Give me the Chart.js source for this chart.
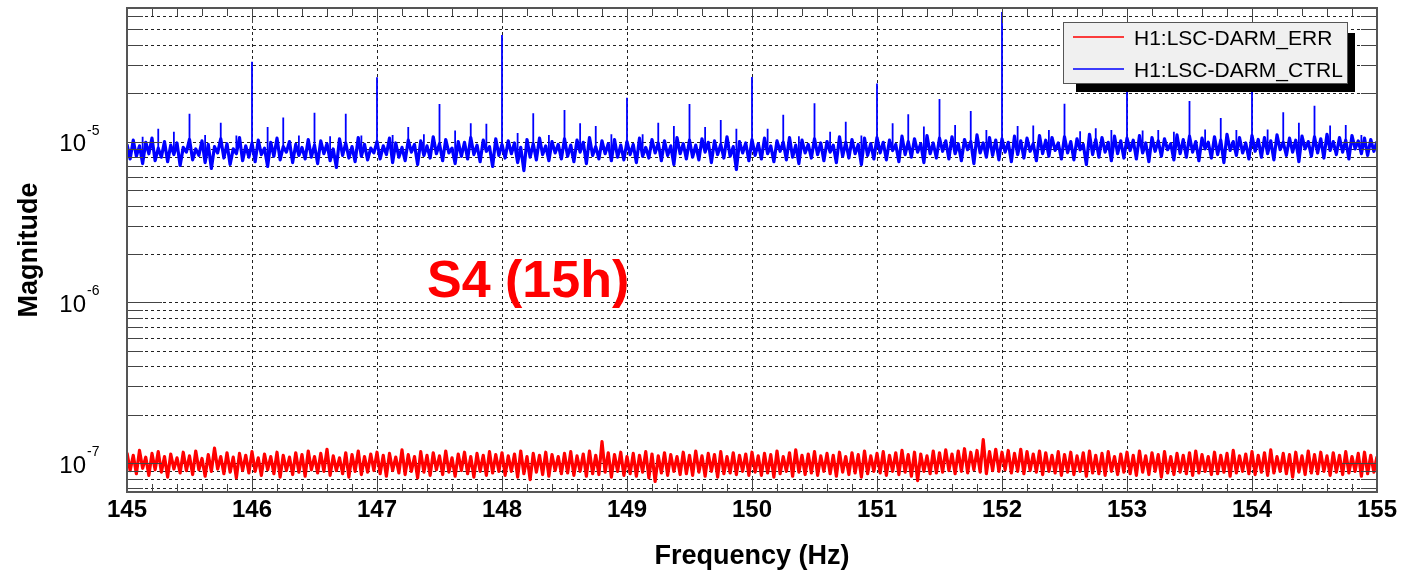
<!DOCTYPE html>
<html>
<head>
<meta charset="utf-8">
<script src="https://cdn.jsdelivr.net/npm/chart.js@4.4.1/dist/chart.umd.min.js"></script>
<style>
	body { margin: 0; background: #fff; }
	canvas { display: block; }
</style>
</head>
<body>
<canvas id="myChart" width="1414" height="571"></canvas>
<script>
// spectrum bins: 145 Hz .. 155 Hz every 0.025 Hz
const freqStart = 145;
const freqStep = 0.025;

// H1:LSC-DARM_CTRL noise floor, units of 1e-6
const ctrlNoise = [
	9.6, 7.8, 10.2, 8.1, 9.4, 7.3, 9.9, 8.4, 10.5, 7.6, 9.1, 8.0, 10.0, 7.5, 9.5, 8.3, 9.8, 7.1, 9.2, 8.6,
	10.3, 7.7, 9.0, 8.2, 10.1, 7.4, 9.6, 6.8, 9.3, 8.5, 10.4, 7.9, 9.7, 7.2, 9.0, 8.4, 10.6, 7.6, 9.4, 8.0,
	9.8, 7.5, 10.2, 8.3, 9.1, 7.0, 9.9, 8.1, 10.5, 7.7, 9.3, 8.6, 10.0, 7.4, 9.6, 8.2, 9.2, 7.8, 10.3, 8.0,
	9.5, 7.3, 10.1, 8.4, 9.7, 7.6, 9.0, 6.9, 10.4, 8.2, 9.8, 7.9, 9.3, 7.5, 10.6, 8.1, 9.6, 7.7, 9.1, 8.5,
	10.0, 7.8, 9.4, 8.3, 10.5, 7.4, 9.8, 8.0, 9.2, 7.6, 10.2, 8.6, 9.6, 7.2, 10.1, 8.2, 9.4, 7.9, 10.7, 8.4,
	9.7, 7.6, 10.3, 8.5, 9.1, 7.3, 10.0, 8.1, 9.9, 7.8, 10.6, 8.3, 9.5, 7.5, 10.2, 8.7, 9.3, 7.0, 10.4, 8.2,
	9.6, 7.9, 10.1, 8.4, 9.8, 7.4, 9.2, 6.6, 10.3, 8.0, 9.7, 7.7, 10.5, 8.3, 9.4, 7.6, 10.0, 8.5, 9.6, 7.8,
	10.4, 8.1, 9.5, 7.5, 10.2, 8.6, 9.9, 7.3, 10.6, 8.2, 9.3, 7.8, 10.1, 8.4, 9.7, 7.6, 10.3, 8.0, 9.5, 7.7,
	10.0, 8.3, 9.6, 7.4, 10.5, 8.1, 9.2, 7.9, 10.3, 8.5, 9.8, 7.6, 10.1, 8.2, 9.4, 7.2, 10.6, 8.4, 9.7, 7.8,
	10.2, 8.0, 9.5, 7.7, 10.4, 8.6, 9.9, 7.4, 10.1, 8.3, 9.6, 7.9, 10.7, 8.1, 9.3, 6.7, 10.0, 8.5, 9.8, 7.6,
	10.3, 8.2, 9.7, 7.8, 10.5, 8.4, 9.4, 7.5, 10.1, 8.7, 9.9, 7.7, 10.6, 8.0, 9.5, 7.3, 10.2, 8.5, 9.6, 7.9,
	10.4, 8.3, 9.8, 7.6, 10.0, 8.6, 9.5, 7.4, 10.7, 8.1, 9.9, 7.9, 10.3, 8.4, 9.6, 7.2, 10.5, 8.2, 9.7, 7.8,
	10.6, 8.5, 9.9, 7.7, 10.2, 8.8, 9.6, 7.5, 10.8, 8.3, 10.0, 8.0, 10.4, 8.6, 9.7, 7.4, 10.9, 8.4, 9.8, 7.9,
	10.5, 8.7, 10.1, 7.8, 10.7, 8.4, 9.7, 7.6, 10.3, 8.9, 10.0, 7.3, 11.0, 8.5, 9.8, 8.0, 10.6, 8.2, 10.2, 7.7,
	10.4, 8.6, 9.9, 7.5, 10.8, 8.3, 10.1, 7.9, 10.5, 8.7, 9.7, 7.6, 10.9, 8.4, 10.2, 8.1, 10.6, 8.8, 9.8, 7.8,
	10.7, 8.5, 10.0, 7.7, 10.4, 8.9, 9.6, 7.2, 11.1, 8.3, 10.3, 8.0, 10.6, 8.6, 9.9, 7.6, 10.8, 8.4, 10.1, 7.9,
	10.5, 8.8, 10.2, 7.8, 10.9, 8.5, 9.8, 7.5, 10.6, 8.7, 10.1, 8.1, 10.4, 8.9, 9.7, 7.7, 11.0, 8.4, 10.3, 8.0,
	10.8, 8.6, 10.0, 7.6, 10.5, 9.0, 9.9, 7.9, 10.7, 8.3, 10.2, 7.4, 11.1, 8.8, 10.0, 8.2, 10.6, 8.5, 9.8, 7.8,
	10.9, 8.7, 10.3, 8.0, 10.6, 8.4, 10.1, 7.7, 11.0, 8.9, 9.9, 8.2, 10.5, 8.6, 10.2, 7.5, 10.8, 9.0, 10.0, 8.1,
	10.7, 8.5, 10.4, 7.9, 11.1, 8.8, 10.0, 8.3, 10.6, 8.6, 10.2, 7.8, 10.9, 9.0, 10.1, 8.4, 10.5, 8.2, 10.3, 8.7,
	10.0,
];

// lines in CTRL (every 1/8 Hz), peak heights in units of 1e-6
const ctrlLineFreqs = [
	145, 145.125, 145.25, 145.375, 145.5, 145.625, 145.75, 145.875,
	146, 146.125, 146.25, 146.375, 146.5, 146.625, 146.75, 146.875,
	147, 147.125, 147.25, 147.375, 147.5, 147.625, 147.75, 147.875,
	148, 148.125, 148.25, 148.375, 148.5, 148.625, 148.75, 148.875,
	149, 149.125, 149.25, 149.375, 149.5, 149.625, 149.75, 149.875,
	150, 150.125, 150.25, 150.375, 150.5, 150.625, 150.75, 150.875,
	151, 151.125, 151.25, 151.375, 151.5, 151.625, 151.75, 151.875,
	152, 152.125, 152.25, 152.375, 152.5, 152.625, 152.75, 152.875,
	153, 153.125, 153.25, 153.375, 153.5, 153.625, 153.75, 153.875,
	154, 154.125, 154.25, 154.375, 154.5, 154.625, 154.75, 154.875,
	155,
];
const ctrlLineVals = [
	23.8, 10.7, 12.0, 11.5, 14.9, 11.0, 13.1, 10.9,
	31.4, 12.3, 14.1, 10.9, 15.1, 10.8, 14.9, 10.9,
	25.1, 11.0, 12.3, 11.1, 17.1, 11.7, 13.0, 12.9,
	46.0, 11.3, 15.0, 11.0, 15.7, 13.0, 12.5, 11.1,
	18.7, 11.1, 13.1, 12.5, 17.1, 12.3, 13.6, 12.0,
	25.2, 12.0, 14.7, 10.8, 17.3, 11.5, 13.3, 10.9,
	23.0, 13.0, 14.8, 12.4, 18.4, 12.7, 15.5, 11.8,
	64.0, 12.5, 12.6, 11.8, 17.2, 11.6, 12.1, 11.8,
	24.0, 11.7, 11.8, 11.5, 17.9, 11.9, 14.0, 11.8,
	30.0, 11.9, 15.2, 13.1, 16.7, 12.6, 12.7, 11.0,
	21.0,
];

// H1:LSC-DARM_ERR noise floor, units of 1e-8
const errNoise = [
	11.6, 9.0, 11.2, 8.6, 12.0, 9.3, 10.9, 8.4, 11.5, 9.1, 11.8, 8.8, 11.0, 8.2, 11.4, 9.2, 10.8, 8.7, 11.7, 9.0,
	11.1, 8.5, 11.9, 9.1, 10.7, 8.3, 11.3, 8.9, 12.4, 9.2, 11.0, 8.6, 11.6, 8.8, 10.9, 8.1, 11.5, 9.0, 11.2, 8.7,
	11.8, 8.9, 10.8, 8.4, 11.4, 9.1, 11.0, 8.6, 11.7, 8.2, 11.2, 9.0, 10.9, 8.5, 11.6, 8.8, 11.3, 8.3, 11.9, 9.1,
	11.0, 8.7, 11.5, 8.9, 12.2, 8.4, 11.1, 9.0, 10.8, 8.6, 11.6, 8.2, 11.3, 8.9, 11.9, 8.5, 11.0, 8.8, 11.4, 9.0,
	11.7, 8.6, 11.2, 8.3, 11.5, 9.0, 10.9, 8.7, 12.1, 8.5, 11.3, 8.9, 11.0, 8.1, 11.8, 8.8, 11.2, 8.4, 11.6, 9.1,
	11.1, 8.5, 11.9, 8.8, 10.8, 8.3, 11.4, 9.0, 11.7, 8.6, 11.0, 8.2, 11.5, 8.9, 11.2, 8.4, 11.8, 8.7, 11.3, 8.9,
	11.6, 8.4, 11.1, 8.9, 11.4, 8.2, 11.9, 8.6, 11.0, 7.9, 11.5, 8.8, 11.2, 8.5, 11.7, 8.3, 11.3, 9.0, 11.0, 8.6,
	11.5, 8.7, 11.8, 8.4, 11.1, 8.9, 11.4, 8.3, 11.9, 8.6, 11.2, 8.5, 13.6, 8.8, 11.6, 8.2, 11.3, 8.9, 11.7, 8.4,
	11.0, 8.6, 11.5, 8.3, 11.2, 8.8, 11.8, 8.1, 11.4, 7.7, 11.1, 8.7, 11.6, 8.4, 11.3, 8.9, 11.0, 8.5, 11.7, 8.6,
	11.2, 8.4, 11.9, 8.8, 11.1, 8.3, 11.5, 8.9, 11.3, 8.2, 11.8, 8.6, 11.0, 8.7, 11.6, 8.5, 11.2, 8.9, 11.4, 8.4,
	11.7, 8.8, 11.1, 8.4, 11.5, 8.7, 11.3, 8.2, 11.9, 8.6, 11.0, 8.9, 11.6, 8.3, 12.1, 8.8, 11.2, 8.5, 11.4, 8.7,
	11.8, 8.4, 11.1, 8.9, 11.5, 8.6, 11.2, 8.3, 11.7, 8.8, 11.0, 8.5, 11.6, 8.7, 11.3, 8.2, 11.9, 8.6, 11.1, 8.9,
	11.5, 8.7, 11.8, 8.4, 11.2, 8.9, 11.6, 8.5, 12.0, 8.8, 11.3, 8.3, 11.7, 7.8, 11.4, 8.9, 11.1, 8.6, 11.9, 8.7,
	11.6, 8.8, 12.1, 9.0, 11.4, 8.6, 11.9, 8.9, 12.3, 8.7, 11.7, 9.1, 12.0, 8.8, 14.0, 8.6, 11.8, 9.0, 12.2, 8.9,
	11.7, 9.1, 12.0, 8.7, 11.5, 8.9, 12.2, 8.6, 11.8, 9.0, 11.4, 8.8, 11.9, 8.5, 11.6, 8.9, 11.2, 8.7, 11.8, 8.4,
	11.3, 8.8, 11.7, 8.5, 11.1, 8.9, 11.6, 8.3, 11.9, 8.7, 11.2, 8.6, 11.5, 8.4, 11.8, 8.9, 11.0, 8.5, 11.4, 8.8,
	11.7, 8.6, 11.2, 8.4, 11.9, 8.8, 11.1, 8.5, 11.6, 8.9, 11.3, 8.2, 11.8, 8.7, 11.0, 8.5, 11.5, 8.8, 11.2, 8.6,
	11.6, 8.4, 11.9, 8.7, 11.3, 8.9, 11.0, 8.5, 11.7, 8.6, 11.2, 8.8, 11.5, 8.3, 12.0, 8.7, 11.1, 8.9, 11.4, 8.6,
	11.8, 8.5, 11.2, 8.8, 11.6, 8.4, 12.1, 8.7, 11.0, 8.9, 11.5, 8.6, 11.3, 8.2, 11.7, 8.8, 11.1, 8.5, 11.9, 8.7,
	11.3, 8.6, 11.7, 8.9, 11.1, 8.4, 11.6, 8.8, 11.2, 8.5, 11.8, 8.7, 11.0, 8.9, 11.5, 8.3, 11.7, 8.6, 11.2, 8.8,
	11.0,
];

const seriesLabels = ["H1:LSC-DARM_ERR", "H1:LSC-DARM_CTRL"];
const seriesColors = ["#ff0000", "#0000ff"];

const xMin = 145;
const xMax = 155;
const xMajorTicks = [145, 146, 147, 148, 149, 150, 151, 152, 153, 154, 155];
const xTickLabels = ["145", "146", "147", "148", "149", "150", "151", "152", "153", "154", "155"];
const yMin = 6.62e-8;
const yMax = 6.77e-5;
const yMajorTicks = [1e-7, 1e-6, 1e-5];
const yTickExps = ["-7", "-6", "-5"];
const yMantissas = [1, 2, 3, 4, 5, 6, 7, 8, 9];

const font = "'Liberation Sans', Arial, sans-serif";

const noisePoints = (noise, unit) => noise.map((v, i) => ({ x: +(freqStart + i * freqStep).toFixed(3), y: v * unit }));

// each line: a vertical stroke from the noise floor up to its peak
const linePoints = (noise, unit, lineFreqs, lineVals) => {
	const points = [];
	lineFreqs.forEach((f, k) => {
		const idx = Math.round((f - freqStart) / freqStep);
		points.push({ x: f, y: noise[idx] * unit }, { x: f, y: lineVals[k] * unit }, { x: f, y: null });
	});
	return points;
};

// every 1..9 x 10^n inside the y range
const yGridValues = [];
[-8, -7, -6, -5, -4].forEach((e) => {
	yMantissas.forEach((m) => {
		const v = m * Math.pow(10, e);
		if (v > yMin && v < yMax) yGridValues.push(v);
	});
});
const xMinorTicks = [];
for (let v = xMin; v <= xMax + 1e-9; v += 0.2) xMinorTicks.push(+v.toFixed(2));

const isMajorY = (v) => yMajorTicks.some((t) => Math.abs(t - v) / t < 1e-6);

const rootFrame = {
	id: "rootFrame",
	beforeDatasetsDraw(chart) {
		const { ctx, chartArea: a, scales } = chart;
		ctx.save();
		ctx.strokeStyle = "#222";
		ctx.lineWidth = 1;
		ctx.setLineDash([3, 3]);
		yGridValues.forEach((v) => {
			const y = Math.round(scales.y.getPixelForValue(v)) + 0.5;
			ctx.beginPath();
			ctx.moveTo(a.left, y);
			ctx.lineTo(a.right, y);
			ctx.stroke();
		});
		xMajorTicks.forEach((v) => {
			const x = Math.round(scales.x.getPixelForValue(v)) + 0.5;
			ctx.beginPath();
			ctx.moveTo(x, a.top);
			ctx.lineTo(x, a.bottom);
			ctx.stroke();
		});
		ctx.restore();
	},
	afterDatasetsDraw(chart) {
		const { ctx, chartArea: a, scales } = chart;
		ctx.save();
		ctx.setLineDash([]);
		ctx.strokeStyle = "#444";
		ctx.lineWidth = 1;
		// inward ticks, both sides
		yGridValues.forEach((v) => {
			const y = Math.round(scales.y.getPixelForValue(v)) + 0.5;
			const len = isMajorY(v) ? 35 : 16;
			ctx.beginPath();
			ctx.moveTo(a.left, y);
			ctx.lineTo(a.left + len, y);
			ctx.moveTo(a.right, y);
			ctx.lineTo(a.right - len, y);
			ctx.stroke();
		});
		xMinorTicks.forEach((v) => {
			const x = Math.round(scales.x.getPixelForValue(v)) + 0.5;
			const len = xMajorTicks.includes(v) ? 15 : 8;
			ctx.beginPath();
			ctx.moveTo(x, a.bottom);
			ctx.lineTo(x, a.bottom - len);
			ctx.moveTo(x, a.top);
			ctx.lineTo(x, a.top + len);
			ctx.stroke();
		});
		// frame
		ctx.strokeStyle = "#555";
		ctx.lineWidth = 2;
		ctx.strokeRect(a.left, a.top, a.right - a.left, a.bottom - a.top);

		// tick labels
		ctx.fillStyle = "#000";
		ctx.font = "bold 24px " + font;
		ctx.textAlign = "center";
		ctx.textBaseline = "alphabetic";
		xMajorTicks.forEach((v, i) => {
			ctx.fillText(xTickLabels[i], scales.x.getPixelForValue(v), 517);
		});
		yMajorTicks.forEach((v, i) => {
			const y = scales.y.getPixelForValue(v);
			ctx.font = "24px " + font;
			ctx.textAlign = "right";
			ctx.fillText("10", 86, y + 9.5);
			ctx.font = "14px " + font;
			ctx.textAlign = "left";
			ctx.fillText(yTickExps[i], 87, y - 7);
		});

		// axis titles
		ctx.font = "bold 27px " + font;
		ctx.textAlign = "center";
		ctx.fillText("Frequency (Hz)", (a.left + a.right) / 2, 564);
		ctx.save();
		ctx.translate(37, (a.top + a.bottom) / 2);
		ctx.rotate(-Math.PI / 2);
		ctx.fillText("Magnitude", 0, 0);
		ctx.restore();

		// run label
		ctx.fillStyle = "#ff0000";
		ctx.font = "bold 52px " + font;
		ctx.textAlign = "left";
		ctx.fillText("S4 (15h)", 427, 297);

		// legend box with shadow
		ctx.fillStyle = "#000";
		ctx.fillRect(1076, 33, 279, 59);
		ctx.fillStyle = "#f0f0f0";
		ctx.fillRect(1063, 22, 285, 62);
		ctx.strokeStyle = "#555";
		ctx.lineWidth = 1;
		ctx.strokeRect(1063.5, 22.5, 284, 61);
		ctx.font = "21px " + font;
		seriesLabels.forEach((label, i) => {
			const y = i === 0 ? 37 : 69;
			ctx.strokeStyle = seriesColors[i];
			ctx.lineWidth = 1.5;
			ctx.beginPath();
			ctx.moveTo(1073, y);
			ctx.lineTo(1124, y);
			ctx.stroke();
			ctx.fillStyle = "#000";
			ctx.fillText(label, 1134, y + 8);
		});
		ctx.restore();
	},
};

const ctx = document.getElementById("myChart");
const myChart = new Chart(ctx, {
	type: "line",
	data: {
		datasets: [
			{
				label: seriesLabels[0],
				data: noisePoints(errNoise, 1e-8),
				borderColor: seriesColors[0],
				borderWidth: 3.2,
				borderJoinStyle: "round",
			},
			{
				label: seriesLabels[1],
				data: noisePoints(ctrlNoise, 1e-6),
				borderColor: seriesColors[1],
				borderWidth: 3.2,
				borderJoinStyle: "round",
			},
			{
				label: seriesLabels[1] + " lines",
				data: linePoints(ctrlNoise, 1e-6, ctrlLineFreqs, ctrlLineVals),
				borderColor: seriesColors[1],
				borderWidth: 1.8,
				spanGaps: false,
			},
		],
	},
	options: {
		responsive: false,
		animation: false,
		devicePixelRatio: 1,
		parsing: false,
		layout: { padding: { left: 127, right: 37, top: 8, bottom: 79 } },
		elements: { point: { radius: 0 }, line: { tension: 0 } },
		plugins: { legend: { display: false }, tooltip: { enabled: false } },
		scales: {
			x: { type: "linear", min: xMin, max: xMax, display: false },
			y: { type: "logarithmic", min: yMin, max: yMax, display: false },
		},
	},
	plugins: [rootFrame],
});
</script>
</body>
</html>
